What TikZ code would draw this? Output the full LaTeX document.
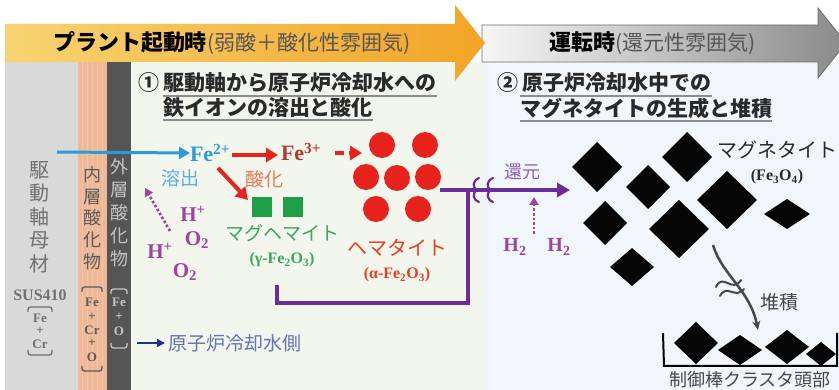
\documentclass[tikz,border=0pt]{standalone}
\usepackage{fontspec}
\setmainfont{Liberation Serif}
\newfontfamily\jp{Noto Sans CJK JP}
\usetikzlibrary{arrows.meta}

% palette
\definecolor{bannerL}{HTML}{F7D472}
\definecolor{bannerR}{HTML}{F2A426}
\definecolor{greyL}{HTML}{F6F6F6}
\definecolor{greyR}{HTML}{8A8A8A}
\definecolor{greyEdge}{HTML}{6E6E6E}
\definecolor{parenGrey}{HTML}{555555}
\definecolor{baseGrey}{HTML}{D9D9D9}
\definecolor{innerOx}{HTML}{EFB997}
\definecolor{outerOx}{HTML}{555555}
\definecolor{paleGreen}{HTML}{F3F6EC}
\definecolor{paleBlue}{HTML}{F1F6FA}
\definecolor{baseInk}{HTML}{707070}
\definecolor{innerInk}{HTML}{5A5A5A}
\definecolor{outerInk}{HTML}{C4C4C4}
\definecolor{headInk}{HTML}{2A2A2A}
\definecolor{ulineGrey}{HTML}{8C8C8C}
\definecolor{ionBlue}{HTML}{2B9BDB}
\definecolor{dissolveBlue}{HTML}{5AB0E0}
\definecolor{rust}{HTML}{E8231D}
\definecolor{feThree}{HTML}{B23A30}
\definecolor{oxText}{HTML}{E57A5A}
\definecolor{maghGreen}{HTML}{1F9E48}
\definecolor{maghText}{HTML}{3BA55C}
\definecolor{hemText}{HTML}{E8401F}
\definecolor{gasPurple}{HTML}{9C449F}
\definecolor{redox}{HTML}{6A2D9A}
\definecolor{reduceText}{HTML}{8B62B3}
\definecolor{gemInk}{HTML}{050505}
\definecolor{depoInk}{HTML}{474747}
\definecolor{coolantText}{HTML}{6373B5}
\definecolor{coolantArrow}{HTML}{22318A}

% a magnetite crystal: centre x, centre y, half width, half height
\newcommand\gem[4]{\fill[gemInk] (#1-#3,#2) -- (#1,#2-#4) -- (#1+#3,#2) -- (#1,#2+#4) -- cycle;}

\begin{document}
\begin{tikzpicture}[x=1pt,y=-1pt,
  every node/.style={inner sep=0pt,outer sep=0pt},
  phasefont/.style={font=\jp\bfseries\fontsize{22}{22}\selectfont},
  head/.style={anchor=west,font=\jp\bfseries\fontsize{21}{21}\selectfont,text=headInk},
  uline/.style={draw=ulineGrey,line width=1.8pt},
  vlab/.style={align=center},
  elem/.style={font=\bfseries\fontsize{13}{13}\selectfont},
  brk/.style={line width=1.3pt,rounded corners=2.5pt},
  chem/.style={font=\bfseries\fontsize{#1}{#1}\selectfont},
  jptext/.style={font=\jp\fontsize{#1}{#1}\selectfont},
  ionarrow/.style={draw=ionBlue,line width=3pt,-{Triangle[length=11pt,width=12pt]}},
  oxarrow/.style={draw=rust,line width=4pt,-{Triangle[length=12pt,width=14pt]}},
  gasarrow/.style={draw=gasPurple,line width=2.6pt,dotted,-{Triangle[length=8pt,width=9pt]}},
  redoxline/.style={draw=redox,line width=4pt},
  dot/.style={circle,fill=rust,minimum size=26pt},
  sq/.style={fill=maghGreen,minimum size=20pt},
]
\useasboundingbox (0,0) rectangle (839,390);

% ---------- backgrounds and layers ----------
\fill[white] (0,0) rectangle (839,390);
\fill[paleGreen] (131,62) rectangle (482,390);
\fill[paleBlue] (482,62) rectangle (839,390);
\fill[baseGrey] (5,62) rectangle (78,390);
\fill[innerOx] (78,62) rectangle (107,390);
\foreach \sx in {82,87,92,97,102} \draw[white,opacity=0.18,line width=1pt] (\sx,62) -- (\sx,390);
\fill[outerOx] (107,62) rectangle (131,390);

% ---------- phase banners ----------
\shadedraw[left color=greyL,right color=greyR,draw=greyEdge,line width=0.8pt]
  (482,25) -- (818,25) -- (818,8) -- (846,43) -- (818,78) -- (818,62) -- (482,62) -- cycle;
\shade[left color=bannerL,right color=bannerR]
  (5,24) -- (455,24) -- (455,5) -- (485,43) -- (455,81) -- (455,62) -- (5,62) -- cycle;

\node[phasefont,anchor=west] (phaseA) at (53,43)
  {プラント起動時{\mdseries\fontsize{21}{21}\selectfont\color{parenGrey}(弱酸＋酸化性雰囲気)}};
\node[phasefont,anchor=west] (phaseB) at (549,43)
  {運転時{\mdseries\fontsize{21}{21}\selectfont\color{parenGrey}(還元性雰囲気)}};

% ---------- layer labels ----------
\node[vlab,font=\jp\fontsize{20}{23.5}\selectfont,text=baseInk] (baseName) at (40,217) {駆\\動\\軸\\母\\材};
\node[chem=16,text=baseInk] (sus) at (40,295) {SUS410};
\node[elem,text=baseInk] (baseFe) at (40,318) {Fe};
\node[elem,text=baseInk] (basePlus) at (40,331) {+};
\node[elem,text=baseInk] (baseCr) at (40,344) {Cr};
\draw[brk,baseInk] (28,312) -- (28,307) -- (52,307) -- (52,312);
\draw[brk,baseInk] (28,350) -- (28,355) -- (52,355) -- (52,350);

\node[vlab,font=\jp\fontsize{18}{21.8}\selectfont,text=innerInk] (innerName) at (92,218) {内\\層\\酸\\化\\物};
\node[elem,text=innerInk] (innerFe) at (92,302) {Fe};
\node[elem,text=innerInk] (innerP1) at (92,317) {+};
\node[elem,text=innerInk] (innerCr) at (92,330) {Cr};
\node[elem,text=innerInk] (innerP2) at (92,343) {+};
\node[elem,text=innerInk] (innerO) at (92,357) {O};
\draw[brk,innerInk] (82,292) -- (82,287) -- (102,287) -- (102,292);
\draw[brk,innerInk] (82,366) -- (82,371) -- (102,371) -- (102,366);

\node[vlab,font=\jp\fontsize{18}{23}\selectfont,text=outerInk] (outerName) at (119,213) {外\\層\\酸\\化\\物};
\node[elem,text=outerInk] (outerFe) at (119,302) {Fe};
\node[elem,text=outerInk] (outerP) at (119,317) {+};
\node[elem,text=outerInk] (outerO) at (119,331) {O};
\draw[brk,outerInk] (111,294) -- (111,289) -- (127,289) -- (127,294);
\draw[brk,outerInk] (111,343) -- (111,348) -- (127,348) -- (127,343);

% ---------- stage headings ----------
\node[head] (hA1) at (138,83) {① 駆動軸から原子炉冷却水への};
\node[head] (hA2) at (163,108) {鉄イオンの溶出と酸化};
\node[head] (hB1) at (497,83) {② 原子炉冷却水中での};
\node[head] (hB2) at (520,108) {マグネタイトの生成と堆積};
\draw[uline] (163,96) -- (hA1.south east |- 0,96);
\draw[uline] (hA2.south west |- 0,120) -- (hA2.south east |- 0,120);
\draw[uline] (520,96) -- (hB1.south east |- 0,96);
\draw[uline] (hB2.south west |- 0,121) -- (hB2.south east |- 0,121);

% ---------- stage 1: dissolution and oxidation ----------
\coordinate (ionStart) at (57,152);
\node[chem=22,text=ionBlue,anchor=west] (fe2) at (190,153) {Fe\textsuperscript{2+}};
\draw[ionarrow] (ionStart) -- (fe2.west);
\node[jptext=19,text=dissolveBlue] (dissolve) at (180,178) {溶出};

\node[chem=22,text=feThree,anchor=west] (fe3) at (281,152) {Fe\textsuperscript{3+}};
\draw[oxarrow] (fe2.east |- 0,155) ++(2,0) coordinate (fe2r) -- ([xshift=-3pt]fe3.west |- 0,155);
\coordinate (fe3r) at (335,153);
\coordinate (hemIn) at (362,153);
\draw[oxarrow,dash pattern=on 9pt off 5pt] (fe3r) -- (hemIn);

\coordinate (fe2d) at (218,168);
\coordinate (maghIn) at (248,200);
\draw[oxarrow] (fe2d) -- (maghIn);
\node[jptext=19,text=oxText] (oxidize) at (264,179) {酸化};

% hematite particles
\node[dot] (h1) at (382,145) {};
\node[dot] (h2) at (425,145) {};
\node[dot] (h3) at (366,177) {};
\node[dot] (h4) at (397,178) {};
\node[dot] (h5) at (428,177) {};
\node[dot] (h6) at (376,209) {};
\node[dot] (h7) at (418,209) {};
\node[jptext=20,text=hemText] (hemName) at (397,248) {ヘマタイト};
\node[chem=16,text=hemText] (hemFormula) at (397,275) {(α-Fe\textsubscript{2}O\textsubscript{3})};

% maghemite particles
\node[sq] (m1) at (262,207) {};
\node[sq] (m2) at (293,207) {};
\node[jptext=19,text=maghText] (maghName) at (282,233) {マグヘマイト};
\node[chem=16,text=maghText] (maghFormula) at (282,260) {(γ-Fe\textsubscript{2}O\textsubscript{3})};

% oxidising species
\node[chem=21,text=gasPurple] (hpA) at (193,214) {H\textsuperscript{+}};
\node[chem=21,text=gasPurple] (o2A) at (197,240) {O\textsubscript{2}};
\node[chem=21,text=gasPurple] (hpB) at (160,251) {H\textsuperscript{+}};
\node[chem=21,text=gasPurple] (o2B) at (185,272) {O\textsubscript{2}};
\coordinate (gasA) at (170,231);
\coordinate (gasAtip) at (145,188);
\draw[gasarrow] (gasA) -- (gasAtip);

% coolant side legend
\coordinate (legStart) at (137,343);
\node[jptext=19,text=coolantText,anchor=west] (coolant) at (168,343) {原子炉冷却水側};
\draw[coolantArrow,line width=1.5pt,-{Triangle[length=8pt,width=8pt]}] (legStart) -- ([xshift=-3pt]coolant.west);

% ---------- stage 2: reduction to magnetite ----------
\coordinate (maghStub) at (277,285);
\coordinate (bendR) at (468,303);
\coordinate (joinT) at (468,190);
\coordinate (hemOut) at (440,190);
\coordinate (reduceTip) at (570,190);
\draw[redoxline,line cap=butt] (maghStub) |- (bendR) -- (joinT);
\draw[redoxline,-{Triangle[length=13pt,width=14pt]}] (hemOut) -- (reduceTip);
\foreach \bx in {476,490}
  \draw[redox,line width=2.2pt,line cap=round]
    (\bx+3,178) .. controls (\bx-4,181) and (\bx-3,187) .. (\bx,190)
    .. controls (\bx-3,194) and (\bx-4,199) .. (\bx+3,202);
\node[jptext=18,text=reduceText] (reduce) at (522,172) {還元};

\node[chem=20,text=gasPurple] (h2A) at (515,247) {H\textsubscript{2}};
\node[chem=20,text=gasPurple] (h2B) at (559,247) {H\textsubscript{2}};
\coordinate (h2Base) at (534,234);
\coordinate (h2Tip) at (534,197);
\draw[gasarrow] (h2Base) -- (h2Tip);

% magnetite crystals in the coolant
\gem{597}{167}{25}{25}
\gem{687}{157}{25}{25}
\gem{648}{187}{22}{22}
\gem{727}{200}{30}{29}
\gem{605}{223}{22}{22}
\gem{679}{229}{30}{29}
\gem{787}{214}{23}{15}
\gem{632}{267}{22}{19}
\node[jptext=20,text=headInk] (magName) at (777,150) {マグネタイト};
\node[chem=16,text=headInk] (magFormula) at (777,177) {(Fe\textsubscript{3}O\textsubscript{4})};

% deposition onto the control rod cluster head
\coordinate (fallTop) at (713,245);
\coordinate (fallTip) at (758,330);
\draw[depoInk,line width=2.5pt,-{Stealth[length=9pt,width=8pt]}]
  (fallTop) .. controls (722,275) and (750,290) .. (fallTip);
\draw[depoInk,line width=2pt,line cap=round] (716,287) .. controls (723,272) and (732,294) .. (741,280);
\draw[depoInk,line width=2pt,line cap=round] (720,296) .. controls (727,283) and (735,300) .. (744,289);
\node[jptext=19,text=depoInk] (deposit) at (779,302) {堆積};

\draw[black,line width=2pt] (663,333) -- (664,366) -- (837,366) -- (837,333);
\gem{696}{343}{22}{21}
\gem{740}{350}{22}{15}
\gem{787}{347}{22}{17}
\gem{821}{354}{15}{12}
\node[jptext=18,text=depoInk] (rodHead) at (750,380) {制御棒クラスタ頭部};

\end{tikzpicture}
\end{document}
